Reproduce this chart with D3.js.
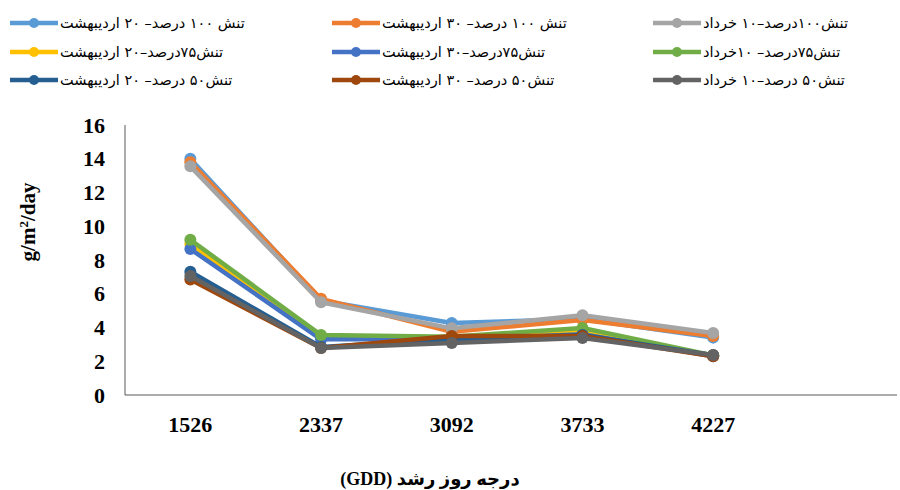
<!DOCTYPE html>
<html lang="fa">
<head>
    <meta charset="UTF-8">
    <title>GDD chart</title>
    <script src="https://d3js.org/d3.v7.min.js"></script>
    <style>
        body { margin: 0; background: #fff; }
        svg { display: block; }
    </style>
</head>
<body>
    <div id="output"></div>

    <script>
        // categories on the x axis (GDD)
        var categories = ["1526", "2337", "3092", "3733", "4227"];

        // series names (legend order)
        var seriesNames = [
            "تنش ۱۰۰ درصد– ۲۰ اردیبهشت",
            "تنش ۱۰۰ درصد– ۳۰ اردیبهشت",
            "تنش۱۰۰درصد–۱۰ خرداد",
            "تنش۷۵درصد–۲۰ اردیبهشت",
            "تنش۷۵درصد–۳۰ اردیبهشت",
            "تنش۷۵درصد– ۱۰خرداد",
            "تنش۵۰ درصد– ۲۰ اردیبهشت",
            "تنش۵۰ درصد– ۳۰ اردیبهشت",
            "تنش۵۰ درصد–۱۰ خرداد"
        ];

        // values for each series
        var s100_20 = [14.0, 5.6, 4.27, 4.5, 3.4];
        var s100_30 = [13.8, 5.7, 3.75, 4.45, 3.5];
        var s100_10 = [13.55, 5.5, 3.95, 4.72, 3.67];
        var s75_20 = [8.95, 3.45, 3.4, 3.75, 2.35];
        var s75_30 = [8.65, 3.3, 3.3, 3.6, 2.3];
        var s75_10 = [9.2, 3.55, 3.45, 3.97, 2.35];
        var s50_20 = [7.3, 2.85, 3.3, 3.55, 2.35];
        var s50_30 = [6.85, 2.78, 3.5, 3.5, 2.3];
        var s50_10 = [7.05, 2.78, 3.08, 3.38, 2.37];

        var yTicks = [0, 2, 4, 6, 8, 10, 12, 14, 16];

        var colors = ["#5B9BD5", "#ED7D31", "#A5A5A5", "#FFC000", "#4472C4",
                      "#70AD47", "#255E91", "#9E480E", "#636363"];

        var allSeries = [s100_20, s100_30, s100_10, s75_20, s75_30, s75_10, s50_20, s50_30, s50_10];

        var width = 900, height = 490;
        var plotLeft = 125, plotTop = 125, plotBottom = 395, axisEnd = 897;
        var band = 130.7;

        var svg = d3.select("#output").append("svg")
            .attr("width", width)
            .attr("height", height);

        var x = d3.scaleBand()
            .domain(categories)
            .range([plotLeft, plotLeft + band * categories.length]);

        var y = d3.scaleLinear()
            .domain([0, 16])
            .range([plotBottom, plotTop]);

        // axes lines
        svg.append("line")
            .attr("x1", plotLeft).attr("x2", plotLeft)
            .attr("y1", y(16)).attr("y2", y(0))
            .attr("stroke", "#595959").attr("stroke-width", 1);
        svg.append("line")
            .attr("x1", plotLeft).attr("x2", axisEnd)
            .attr("y1", y(0)).attr("y2", y(0))
            .attr("stroke", "#595959").attr("stroke-width", 1);

        // y tick labels
        svg.selectAll(".ytick")
            .data(yTicks)
            .enter().append("text")
            .attr("class", "ytick")
            .attr("x", 105)
            .attr("y", function(d) { return y(d); })
            .attr("dy", "0.35em")
            .attr("text-anchor", "end")
            .style("font-family", "'Liberation Serif', serif")
            .style("font-weight", "bold")
            .style("font-size", "22px")
            .text(function(d) { return d; });

        // x tick labels
        svg.selectAll(".xtick")
            .data(categories)
            .enter().append("text")
            .attr("class", "xtick")
            .attr("x", function(d) { return x(d) + x.bandwidth() / 2; })
            .attr("y", 432)
            .attr("text-anchor", "middle")
            .style("font-family", "'Liberation Serif', serif")
            .style("font-weight", "bold")
            .style("font-size", "22px")
            .text(function(d) { return d; });

        // y axis title
        var yt = svg.append("text")
            .attr("transform", "translate(35,222) rotate(-90)")
            .attr("text-anchor", "middle")
            .style("font-family", "'Liberation Serif', serif")
            .style("font-weight", "bold")
            .style("font-size", "21px");
        yt.append("tspan").text("g/m");
        yt.append("tspan").attr("baseline-shift", "super").style("font-size", "13px").text("2");
        yt.append("tspan").text("/day");

        // x axis title (right-to-left)
        svg.append("text")
            .attr("x", 430)
            .attr("y", 485)
            .attr("text-anchor", "middle")
            .attr("direction", "rtl")
            .style("font-family", "'Liberation Serif', 'DejaVu Sans', serif")
            .style("font-weight", "bold")
            .style("font-size", "18px")
            .text("درجه روز رشد (GDD)");

        // lines
        var line = d3.line()
            .x(function(d, i) { return x(categories[i]) + x.bandwidth() / 2; })
            .y(function(d) { return y(d); });

        allSeries.forEach(function(vals, k) {
            var g = svg.append("g");
            g.append("path")
                .attr("d", line(vals))
                .attr("fill", "none")
                .attr("stroke", colors[k])
                .attr("stroke-width", 4.5)
                .attr("stroke-linejoin", "round");
            g.selectAll("circle")
                .data(vals)
                .enter().append("circle")
                .attr("cx", function(d, i) { return x(categories[i]) + x.bandwidth() / 2; })
                .attr("cy", function(d) { return y(d); })
                .attr("r", 6)
                .attr("fill", colors[k]);
        });

        // legend (3 columns x 3 rows)
        var colX = [10, 332, 653];
        var rowY = [23, 52, 80];
        var legend = svg.selectAll(".legend")
            .data(seriesNames)
            .enter().append("g")
            .attr("class", "legend")
            .attr("transform", function(d, i) {
                return "translate(" + colX[i % 3] + "," + rowY[Math.floor(i / 3)] + ")";
            });
        legend.append("line")
            .attr("x1", 0).attr("x2", 48)
            .attr("y1", 0).attr("y2", 0)
            .attr("stroke", function(d, i) { return colors[i]; })
            .attr("stroke-width", 4.5);
        legend.append("circle")
            .attr("cx", 24).attr("cy", 0).attr("r", 5)
            .attr("fill", function(d, i) { return colors[i]; });
        legend.append("text")
            .attr("x", 50)
            .attr("y", 0)
            .attr("dy", "0.35em")
            .style("font-family", "'DejaVu Sans', sans-serif")
            .style("font-size", "14.5px")
            .text(function(d) { return d; });
    </script>
</body>
</html>
